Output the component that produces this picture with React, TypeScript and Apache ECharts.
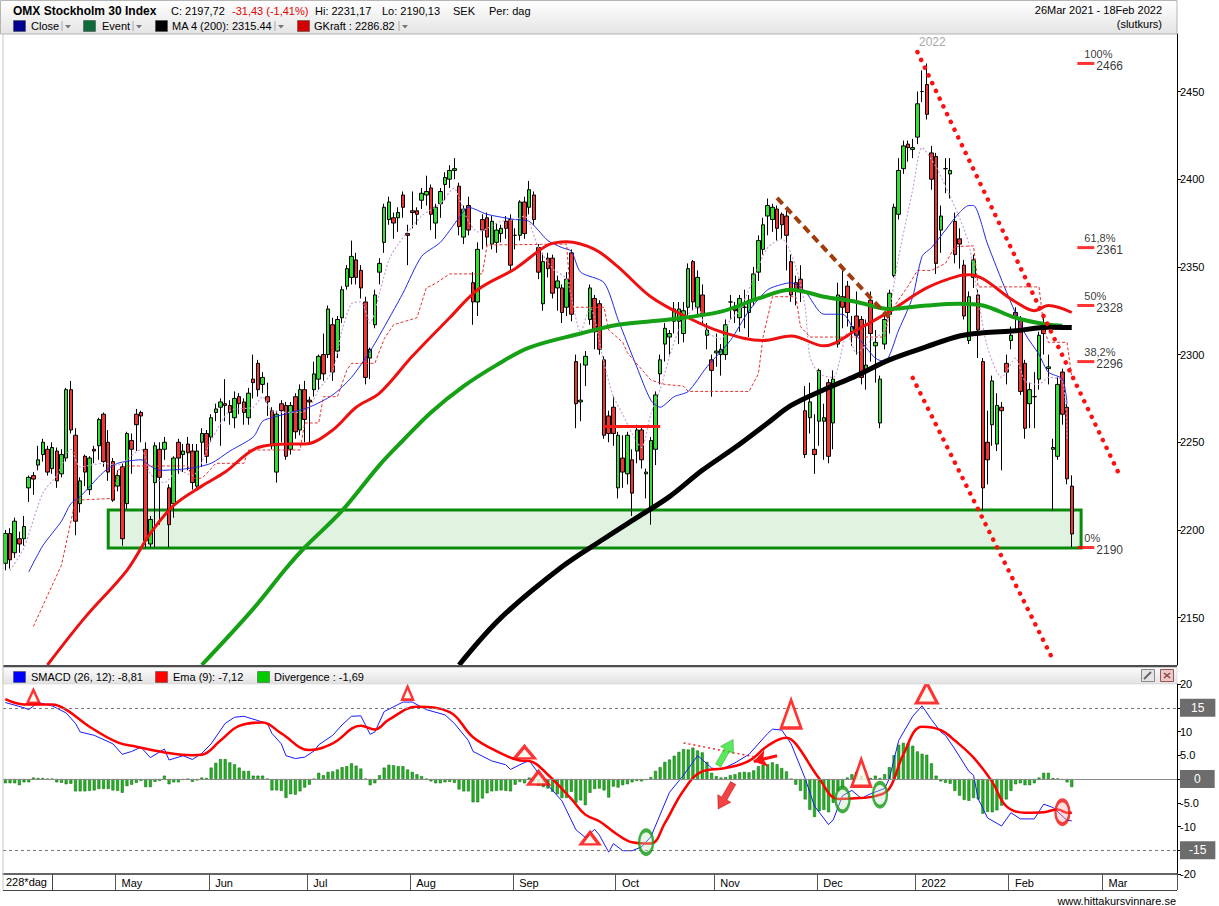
import { useEffect, useRef } from 'react';
import * as echarts from 'echarts';

const FONT = '"Liberation Sans", Arial, Helvetica, sans-serif';

// ---------- calendar ----------
const START_DATE = '2021-03-26';
const SLOT_COUNT = 251;
const HOLIDAYS = ['2021-04-02', '2021-04-05', '2021-05-13', '2021-06-25', '2021-12-24', '2021-12-31', '2022-01-06'];
const MONTH_LABELS: Record<string, string> = {
  '2021-05': 'May', '2021-06': 'Jun', '2021-07': 'Jul', '2021-08': 'Aug', '2021-09': 'Sep',
  '2021-10': 'Oct', '2021-11': 'Nov', '2021-12': 'Dec', '2022-01': '2022', '2022-02': 'Feb', '2022-03': 'Mar',
};

// ---------- price data: [open, close, low, high] ----------
const OHLC: number[][] = [
  [2181,2198,2177,2200],[2198,2183,2178,2201],[2187,2205,2184,2207],[2195,2192,2187,2199],[2195,2202,2191,2208],
  [2224,2230,2216,2231],[2231,2229,2220,2233],[2237,2240,2234,2248],[2243,2250,2239,2252],[2246,2233,2231,2248],
  [2235,2247,2232,2250],[2245,2228,2224,2247],[2232,2243,2230,2246],[2241,2280,2239,2281],[2280,2257,2255,2285],
  [2254,2205,2197,2258],[2215,2228,2210,2230],[2242,2233,2225,2243],[2223,2241,2220,2242],[2246,2245,2238,2248],
  [2248,2263,2240,2264],[2266,2239,2236,2267],[2250,2233,2228,2257],[2239,2217,2216,2241],[2225,2231,2222,2234],
  [2236,2195,2191,2238],[2215,2255,2212,2256],[2251,2246,2232,2255],[2266,2260,2245,2269],[2267,2265,2250,2268],
  [2246,2194,2190,2250],[2192,2206,2190,2208],[2227,2248,2190,2250],[2246,2230,2203,2250],[2246,2250,2240,2253],
  [2224,2203,2190,2226],[2215,2241,2207,2242],[2250,2241,2232,2252],[2243,2245,2233,2249],[2249,2244,2234,2253],
  [2245,2227,2223,2249],[2225,2245,2224,2249],[2250,2255,2236,2258],
  [2255,2242,2238,2257],[2253,2264,2250,2266],[2267,2269,2262,2272],[2270,2273,2248,2275],[2272,2271,2262,2286],
  [2271,2267,2260,2274],[2264,2275,2258,2279],[2276,2272,2266,2278],[2273,2267,2260,2275],[2264,2278,2260,2281],
  [2286,2284,2275,2300],[2295,2280,2276,2297],[2283,2287,2278,2290],[2276,2273,2265,2284],[2268,2248,2246,2270],
  [2233,2266,2227,2268],[2272,2268,2250,2274],[2271,2242,2240,2273],[2246,2271,2243,2273],[2276,2256,2252,2278],
  [2257,2280,2254,2283],[2280,2263,2250,2285],[2274,2273,2250,2276],[2280,2289,2276,2296],[2286,2299,2280,2300],
  [2300,2289,2285,2312],[2300,2326,2298,2328],[2317,2290,2285,2321],[2302,2320,2298,2322],[2321,2337,2318,2339],
  [2339,2349,2337,2351],[2344,2356,2340,2365],[2354,2344,2340,2358],[2348,2338,2332,2351],[2330,2287,2283,2333],
  [2298,2303,2286,2304],[2317,2334,2315,2337],[2347,2352,2340,2355],[2364,2384,2358,2386],[2377,2387,2374,2390],
  [2378,2375,2366,2381],[2378,2381,2370,2384],[2391,2384,2378,2393],[2369,2368,2351,2374],[2382,2381,2372,2393],
  [2382,2380,2374,2384],[2388,2392,2383,2395],[2391,2393,2385,2402],[2395,2380,2371,2397],[2375,2384,2366,2386],
  [2386,2393,2378,2395],[2397,2401,2388,2404],[2400,2405,2395,2408],[2405,2406,2400,2412],[2396,2373,2368,2398],
  [2367,2383,2363,2385],[2385,2371,2368,2390],[2341,2330,2317,2347],[2330,2360,2322,2364],[2377,2371,2360,2380],
  [2378,2367,2362,2381],[2363,2376,2360,2379],[2364,2371,2358,2375],[2369,2372,2364,2374],[2376,2372,2366,2379],
  [2377,2351,2348,2380],[2368,2368,2360,2372],[2368,2387,2365,2388],[2387,2369,2366,2390],[2384,2394,2380,2399],
  [2391,2377,2374,2393],[2361,2347,2343,2363],[2329,2353,2325,2358],[2355,2349,2344,2358],[2355,2335,2332,2357],
  [2338,2342,2325,2345],[2338,2324,2318,2340],[2327,2343,2322,2347],[2358,2323,2319,2360],[2296,2272,2258,2300],
  [2273,2274,2262,2295],
  [2294,2299,2282,2302],[2320,2338,2317,2340],[2332,2313,2303,2334],[2329,2303,2300,2331],[2297,2254,2252,2299],
  [2265,2255,2250,2268],[2270,2255,2248,2276],[2224,2254,2218,2256],[2241,2233,2224,2254],[2232,2254,2226,2256],
  [2240,2221,2208,2246],[2245,2257,2238,2260],[2257,2240,2235,2259],[2232,2233,2218,2235],[2211,2251,2203,2253],
  [2246,2277,2237,2279],[2289,2297,2283,2300],[2306,2315,2296,2318],[2310,2312,2300,2314],[2319,2326,2312,2330],
  [2319,2326,2306,2330],[2312,2325,2307,2330],[2327,2349,2322,2352],[2353,2330,2325,2354],[2327,2344,2322,2348],
  [2334,2323,2318,2340],[2311,2314,2303,2318],[2297,2291,2276,2300],[2301,2302,2293,2312],[2300,2303,2288,2306],
  [2300,2317,2297,2320],[2330,2330,2320,2334],[2326,2325,2318,2330],[2321,2332,2313,2334],[2327,2327,2315,2337],
  [2324,2331,2310,2334],[2331,2346,2328,2350],[2347,2365,2342,2368],[2360,2374,2357,2378],[2379,2385,2368,2389],
  [2377,2384,2370,2386],
  [2383,2372,2365,2385],[2380,2374,2366,2381],[2379,2368,2348,2382],[2353,2334,2330,2357],[2341,2337,2328,2345],
  [2343,2336,2330,2351],[2268,2243,2241,2282],[2264,2273,2255,2284],[2246,2243,2232,2266],[2262,2291,2248,2292],
  [2262,2264,2240,2272],[2284,2242,2238,2286],[2261,2286,2246,2291],[2306,2334,2304,2341],[2333,2327,2315,2351],
  [2339,2324,2316,2342],[2313,2316,2305,2322],[2322,2311,2300,2336],[2320,2287,2283,2322],[2290,2294,2280,2320],
  [2331,2312,2296,2336],[2305,2307,2284,2314],[2261,2286,2258,2288],[2306,2320,2303,2322],[2323,2335,2312,2337],
  [2345,2384,2344,2386],[2380,2405,2377,2412],[2406,2419,2403,2422],[2420,2418,2410,2422],[2417,2418,2412,2423],
  [2424,2443,2420,2450],[2450,2450,2444,2462],[2454,2437,2434,2466],[2415,2400,2394,2419],[2413,2352,2346,2415],
  [2371,2379,2358,2385],[2406,2406,2392,2412],[2403,2405,2389,2412],[2376,2357,2352,2381],[2366,2363,2349,2372],
  [2351,2322,2320,2354],[2308,2333,2306,2336],[2344,2354,2338,2357],[2334,2314,2298,2337],[2296,2224,2211,2298],
  [2250,2240,2226,2268],[2260,2285,2248,2288],[2249,2271,2245,2278],[2270,2268,2234,2273],[2295,2290,2283,2300],
  [2308,2311,2303,2316],[2324,2321,2313,2327],[2320,2279,2277,2322],[2295,2258,2252,2297],[2272,2280,2258,2284],
  [2276,2276,2258,2290],[2286,2311,2280,2313],[2318,2312,2300,2321],[2292,2293,2283,2300],[2246,2247,2211,2252],
  [2242,2283,2240,2287],[2290,2266,2260,2292],[2270,2229.15,2226,2272],[2225,2197.72,2190.13,2231.17],
];

// ---------- indicator lines, [dayIndex, value] ----------
const CLOSE_AVG = [[5,2176],[8,2191],[12,2205],[14,2215],[16,2219],[21,2233],[24,2238],[29,2240],[31,2236.5],[33,2234],[39,2235],[44,2238],[48,2245],[53,2253],[55,2262],[57,2264],[61,2267],[65,2270],[70,2277],[74,2287],[78,2302],[80,2311],[85,2335],[89,2356],[93,2364],[97,2378],[99,2384],[103,2380],[109,2377],[112,2376],[116,2365],[119,2361],[121,2359],[123,2347],[128,2341],[131,2320],[135,2293],[138,2274],[140,2270],[143,2276],[146,2279],[150,2293],[155,2308],[159,2325],[163,2337],[166,2340],[168,2341],[171,2336],[175,2323],[179,2323],[182,2311],[186,2298],[188,2296],[191,2314],[194,2333],[196,2356],[198,2361],[201,2371],[204,2381],[206,2385],[207,2385],[210,2363],[214,2336],[218,2312],[221,2300],[223,2290],[226,2286],[227,2272]];
const FAST_AVG = [[1,2177],[4,2190],[8,2221],[11,2231],[14,2246],[16,2236],[21,2238],[24,2237],[29,2246],[31,2232],[34,2227],[37,2234],[40,2231],[44,2251],[48,2268],[53,2270],[55,2276],[57,2268],[61,2267],[63,2267],[65,2270],[67,2280],[70,2291],[72,2314],[74,2329],[76,2330],[78,2318],[80,2335],[82,2354],[84,2363],[89,2379],[93,2386],[96,2395],[97,2389],[99,2376],[101,2370],[106,2376],[109,2377],[111,2379],[114,2361],[117,2349],[120,2343],[123,2313],[125,2327],[128,2295],[130,2276],[132,2266],[134,2255],[136,2247],[138,2266],[140,2280],[142,2299],[144,2314],[146,2323],[148,2327],[150,2313],[153,2309],[155,2320],[157,2325],[160,2344],[163,2361],[166,2366],[169,2350],[171,2327],[172,2299],[174,2289],[177,2287],[180,2312],[182,2301],[185,2308],[188,2314],[191,2356],[194,2394],[196,2418],[199,2407],[201,2396],[204,2378],[206,2363],[208,2332],[210,2304],[213,2287],[216,2298],[218,2285],[221,2283],[223,2287],[226,2285],[227,2252]];
const GKRAFT = [[6,2145],[12,2180],[15,2217],[23,2218],[24,2234],[26,2236.5],[39,2236.5],[40,2229.5],[42,2229.5],[43,2232],[45,2238],[51,2238],[52,2245.6],[63,2245.6],[64,2261],[67,2261],[68,2276],[71,2276],[73,2291],[74,2295],[79,2295],[81,2309],[83,2317],[88,2321],[90,2338],[92,2340.6],[95,2346],[102,2346],[103,2362.5],[120,2363],[121,2327],[128,2327],[129,2314],[132,2307],[133,2301],[138,2285.5],[141,2283],[145,2282],[146,2279],[159,2279],[161,2289],[162,2310],[164,2333],[169,2333],[170,2316],[172,2310],[188,2310],[189,2323.5],[193,2339],[195,2348],[198,2348],[201,2352],[203,2361.5],[207,2362],[208,2338.6],[221,2338.6],[222,2316],[223,2307],[227,2307],[228,2286.82]];
const MA50 = [[9,2123],[17,2150],[26,2177],[31,2198],[36,2214],[42,2225],[47,2233],[54,2247],[61,2249],[64,2249],[70,2257],[75,2270],[80,2278],[87,2299],[95,2321],[101,2337],[109,2349],[116,2362.5],[120,2364.4],[126,2360],[131,2350],[138,2333],[146,2321],[153,2313],[162,2308],[168,2310.6],[175,2305],[182,2314],[189,2324.5],[197,2338],[204,2345],[206,2345.5],[216,2330],[220,2325],[223,2328],[228,2324]];
const MA100 = [[42,2123],[53,2155],[60,2178],[64,2190],[72,2211],[80,2237],[85,2251],[91,2267],[98,2282],[105,2294],[112,2304],[123,2312],[131,2317],[142,2320],[153,2324.5],[161,2332],[168,2337],[175,2333],[182,2330],[189,2326],[197,2328],[204,2329],[209,2328],[216,2321],[223,2317],[226,2316.5]];
const MA200 = [[97,2123],[106,2150],[119,2179],[128,2195],[135,2207],[142,2219],[149,2234],[156,2247],[163,2261],[168,2271],[175,2280],[182,2288],[189,2297],[197,2304.5],[204,2310.6],[209,2312.4],[216,2313.6],[223,2315.6],[228,2315.44]];

// ---------- MACD panel ----------
const SMACD = [[0,16.1],[4,15],[5,14.6],[7,16.1],[10,15.4],[13,13.9],[15,11.7],[16,9.9],[19,9.2],[23,7.4],[25,5.2],[27,5.8],[29,6.7],[31,4.5],[34,6.3],[35,4.0],[38,4.9],[40,4.1],[42,5.4],[44,7.4],[47,11.7],[49,13.0],[51,13.2],[54,12.3],[56,11.7],[57,9.6],[59,7.4],[60,4.9],[62,4.3],[64,4.6],[66,5.9],[67,7.2],[70,9.2],[72,11.4],[74,13.2],[76,13.3],[78,9.4],[79,9.9],[81,14.2],[85,16.2],[87,16.2],[90,14.6],[94,13.5],[96,11.7],[99,8.1],[100,5.8],[104,3.8],[107,3.0],[108,2.0],[110,3.0],[112,3.9],[115,-0.2],[119,-4.6],[122,-10.7],[124,-12.3],[126,-10.6],[127,-11.8],[129,-15.4],[130,-13.6],[132,-15.1],[134,-15.1],[136,-14.3],[138,-12.2],[142,-2.8],[145,0.8],[148,4.9],[149,4.1],[151,2.3],[153,2.0],[156,3.4],[159,5.2],[163,9.6],[164,10.5],[166,10.3],[168,7.4],[171,0.1],[173,-5.7],[176,-9.6],[177,-8.6],[179,-3.5],[181,-2.4],[183,-4.1],[185,-3.1],[188,-2.0],[189,0.1],[191,8.1],[194,13.2],[196,15.4],[198,12.5],[200,9.9],[201,9.2],[203,6.3],[206,1.6],[207,0.8],[208,-4.2],[210,-8.2],[213,-9.9],[215,-7.1],[217,-8.4],[220,-8.4],[222,-5.3],[224,-6.0],[227,-8.7],[228,-8.81]];
const EMA9 = [[0,16.8],[4,15.7],[10,15.7],[13,14.6],[18,11],[24,7.7],[28,6.8],[34,5.6],[40,5.0],[42,5.1],[46,8.1],[50,11.2],[55,11.9],[59,9.6],[65,6.1],[70,7.5],[76,11.2],[79,10.4],[82,12.5],[88,15.2],[95,14.1],[100,8.8],[106,5.4],[110,3.9],[112,3.8],[116,0.9],[121,-4.2],[124,-7.5],[127,-8.9],[131,-11.8],[134,-13.3],[138,-13.6],[141,-9.3],[145,-2.4],[149,1.6],[154,2.3],[159,3.8],[163,7.0],[167,8.7],[169,7.4],[174,0.1],[178,-4.2],[181,-4.1],[186,-3.6],[189,-2.0],[192,5.2],[196,11.0],[200,10.3],[203,8.1],[207,4.5],[211,-0.6],[214,-5.7],[218,-7.1],[222,-7.0],[225,-6.4],[227,-7.1],[228,-7.12]];
const DIVERGENCE = [
  -0.9,-0.9,-0.9,-1.3,-0.7,-0.7,0.3,0.2,0.2,0,0,-0.7,-0.8,-1.1,-1.0,-2.6,-2.6,-2.6,-2.5,-2.4,
  -2.1,-2.1,-2.1,-2.4,-2.5,-2.9,-1.5,-1.2,-0.8,-0.4,-1.7,-1.7,-0.6,-0.4,0.7,-1.1,-0.7,-0.7,-0.2,0,
  -0.6,-0.3,0.3,0.2,2.4,3.4,4.2,4.2,3.5,3.1,2.4,1.7,1.7,0.7,0.7,0.7,0,-2.4,-2.4,-2.5,
  -4.0,-3.2,-3.3,-2.6,-1.8,-1.2,0,1.3,0.8,1.5,1.6,2.0,2.5,2.7,3.3,2.8,2.2,0,-1.3,-0.9,
  0.8,2.4,3.0,2.9,2.7,2.7,2.0,1.5,1.0,0.6,0,-0.5,-0.9,-0.9,-0.7,-0.6,-0.8,-2.2,-2.6,-2.6,
  -4.9,-4.9,-4.1,-3.0,-2.6,-2.5,-2.4,-2.5,-2.6,-1.2,-0.6,-0.9,0.3,-0.7,-1.4,-1.7,-2.0,-2.7,-3.2,-4.0,
  -4.0,-2.7,-5.0,-4.5,-5.5,-2.9,-2.1,-2.0,-2.4,-3.9,-1.6,-1.8,-1.3,-1.1,-0.7,-0.4,-0.5,-0.2,0.4,1.7,
  2.5,3.6,4.1,4.9,5.7,6.3,6.2,6.6,6.0,5.6,3.6,1.3,0.6,0.3,0.4,0.8,1.0,1.4,1.5,1.4,
  1.8,2.7,3.0,3.1,3.5,3.1,2.3,1.6,0,-1.2,-2.5,-4.3,-6.5,-8.0,-6.8,-6.5,-7.0,-5.0,-2.5,-1.8,
  0.3,1.0,1.5,0.7,0,0.2,0.7,0.2,1.0,2.5,5.0,7.2,7.6,7.5,7.0,5.8,5.3,5.1,3.3,0.7,
  -0.5,-0.8,-1.0,-2.5,-3.5,-4.4,-4.6,-4.0,-4.3,-7.3,-6.9,-7.0,-6.6,-5.6,-4.3,-2.5,-1.1,-0.9,-1.3,-1.3,
  -0.9,0.3,1.3,1.3,0.2,0.1,-0.2,-0.7,-1.69,
];

// ---------- annotations ----------
const FIB_LEVELS: [string, number][] = [['100%', 2466], ['61,8%', 2361], ['50%', 2328], ['38,2%', 2296], ['0%', 2190]];
const FIB_AT = 231;
const SUPPORT_ZONE = { from: 22, to: 230, top: 2211.4, bottom: 2189.7 };
const CHANNEL_UPPER = [[195, 2472.5], [238, 2232.5]];
const CHANNEL_LOWER = [[194, 2286.7], [224, 2125.9]];
const BROWN_TREND = [[165, 2389.3], [189, 2320.9]];
const SUPPORT_TICK = [[128, 2259.3], [140, 2259.3]];
const MACD_TRIANGLES = [[6, 17.4], [86, 18.1], [111, 5.6], [114, 0.2], [125, -12.5], [168, 13.7], [183, 1.3], [197, 18.1]];
const TRI_SIZES = [[12, 13], [11, 13], [20, 12], [20, 13], [18, 12], [20, 28], [19, 27], [21, 20]];
const MACD_RINGS_GREEN = [[137, -13.3], [179, -4.3], [187, -3.3]];
const MACD_RING_RED = [226, -7.0];
const ARROW_UP = [154, 5.6];
const ARROW_DOWN = [154, -3.6];
const DOTTED_HINT = [[145, 7.6], [160, 4.7]];
const LEFT_ARROW = [[165, 4.9], [160, 3.7]];

function buildDays(): string[] {
  const out: string[] = [];
  const d = new Date(START_DATE + 'T00:00:00Z');
  while (out.length < SLOT_COUNT) {
    const wd = d.getUTCDay();
    const s = d.toISOString().slice(0, 10);
    if (wd !== 0 && wd !== 6 && !HOLIDAYS.includes(s)) out.push(s);
    d.setUTCDate(d.getUTCDate() + 1);
  }
  return out;
}

const ELLIPSE = 'path://M0,10 A10,10 0 1,1 20,10 A10,10 0 1,1 0,10 Z';
const ARROW = 'path://M5,0 L10,9 L7,9 L7,22 L3,22 L3,9 L0,9 Z';

function txt(x: number, y: number, text: string, o: any = {}) {
  return {
    type: 'text', x, y, silent: true, z: 50,
    style: {
      text, fill: o.fill || '#000',
      font: `${o.bold ? 'bold ' : ''}${o.size || 11}px ${FONT}`,
      align: o.align || 'left', verticalAlign: 'middle',
    },
  };
}
function box(x: number, y: number, w: number, h: number, fill: any, stroke?: string, lw = 1) {
  return { type: 'rect', silent: true, z: 40, shape: { x, y, width: w, height: h }, style: { fill, stroke: stroke || null, lineWidth: lw } };
}
function ln(x1: number, y1: number, x2: number, y2: number, stroke: string, lw = 1) {
  return { type: 'line', silent: true, z: 45, shape: { x1, y1, x2, y2 }, style: { stroke, lineWidth: lw } };
}
function dropdown(x: number, y: number) {
  return [
    ln(x, y - 5, x, y + 5, '#aaa', 1),
    { type: 'polygon', silent: true, z: 45, shape: { points: [[x + 3, y - 1], [x + 9, y - 1], [x + 6, y + 2.5]] }, style: { fill: '#777' } },
  ];
}

function buildOption() {
  const days = buildDays();
  const monthStart = new Set<number>();
  for (let i = 1; i < days.length; i++) {
    const m = days[i].slice(0, 7);
    if (m !== days[i - 1].slice(0, 7) && MONTH_LABELS[m]) monthStart.add(i);
  }
  const grad = (a: string, b: string) => new echarts.graphic.LinearGradient(0, 0, 0, 1, [{ offset: 0, color: a }, { offset: 1, color: b }]);

  const graphic: any[] = [
    // header
    box(0.5, 0.5, 1176.5, 33.5, grad('#ffffff', '#e4e4e4'), '#b5b5b5'),
    txt(13, 11, 'OMX Stockholm 30 Index', { bold: true, size: 12 }),
    txt(171, 11, 'C: 2197,72'),
    txt(232, 11, '-31,43 (-1,41%)', { fill: '#e00000' }),
    txt(315, 11, 'Hi: 2231,17'),
    txt(382, 11, 'Lo: 2190,13'),
    txt(453, 11, 'SEK'),
    txt(489, 11, 'Per: dag'),
    txt(1162, 10, '26Mar 2021 - 18Feb 2022', { align: 'right' }),
    txt(1162, 24, '(slutkurs)', { align: 'right' }),
    box(13.5, 20.5, 12, 11, '#000090', '#444', 0.5), txt(31, 26, 'Close'), ...dropdown(62, 26),
    box(83.5, 20.5, 12, 11, '#0d6b3c', '#444', 0.5), txt(102, 26, 'Event'), ...dropdown(133, 26),
    box(155.5, 20.5, 12, 11, '#000000', '#444', 0.5), txt(172, 26, 'MA 4 (200): 2315.44'), ...dropdown(275, 26),
    box(297.5, 20.5, 12, 11, '#d40000', '#444', 0.5), txt(314, 26, 'GKraft : 2286.82'), ...dropdown(399, 26),
    txt(919, 42, '2022', { fill: '#a8a8a8', size: 12 }),
    // left frame
    ln(3, 34, 3, 890, '#c8c8c8', 1),
    // separator + MACD header
    box(3, 665, 1174, 2.5, '#4d4d4d'),
    box(3, 667.5, 1174, 16.5, grad('#fbfbfb', '#e2e2e2'), '#c9c9c9', 0.5),
    box(13.5, 671.5, 12, 11, '#0000ff', '#444', 0.5), txt(31, 677, 'SMACD (26, 12): -8,81'),
    box(155.5, 671.5, 12, 11, '#ff0000', '#444', 0.5), txt(173, 677, 'Ema (9): -7,12'),
    box(257.5, 671.5, 12, 11, '#00cc00', '#444', 0.5), txt(274, 677, 'Divergence : -1,69'),
    box(1141.5, 669.5, 13, 12, '#e4e4e4', '#8a8a8a', 1),
    ln(1144, 679, 1151, 672, '#666', 2),
    box(1160.5, 669.5, 13, 12, '#e6caca', '#a05050', 1),
    ln(1164, 673, 1170, 678, '#904040', 1.5), ln(1170, 673, 1164, 678, '#904040', 1.5),
    // bottom strip
    ln(3, 890.5, 1177, 890.5, '#444', 1),
    ln(52.5, 874, 52.5, 890, '#444', 1),
    txt(6, 882, '228*dag'),
    txt(1176, 901, 'www.hittakursvinnare.se', { align: 'right' }),
  ];

  const dotted = { color: '#ff1010', width: 4.5, type: [0.1, 8.5], cap: 'round' };
  const boxLabel = (t: string, pad: number[]) => ({
    show: true, position: 'end', distance: 3, formatter: t, color: '#fff', backgroundColor: '#6c6c6c',
    padding: pad, fontSize: 12, fontFamily: FONT,
  });

  const option: any = {
    animation: false,
    backgroundColor: '#ffffff',
    textStyle: { fontFamily: FONT },
    graphic,
    grid: [
      { left: 3, right: 42, top: 34, height: 631 },
      { left: 3, right: 42, top: 684, height: 190 },
    ],
    xAxis: [
      { type: 'category', gridIndex: 0, data: days, boundaryGap: true, show: false },
      {
        type: 'category', gridIndex: 1, data: days, boundaryGap: true, position: 'bottom',
        axisLine: { onZero: false, lineStyle: { color: '#333', width: 1.5 } },
        axisTick: { show: true, interval: (i: number) => monthStart.has(i), length: 16, lineStyle: { color: '#555' } },
        axisLabel: {
          interval: (i: number) => monthStart.has(i),
          formatter: (v: string) => MONTH_LABELS[v.slice(0, 7)] || '',
          align: 'left', padding: [0, 0, 0, 4], margin: 3, color: '#000', fontSize: 11, fontFamily: FONT,
        },
        splitLine: { show: false },
      },
    ],
    yAxis: [
      {
        type: 'value', gridIndex: 0, position: 'right', min: 2123, max: 2482.8, splitNumber: 7,
        axisLine: { show: true, lineStyle: { color: '#000' } },
        axisTick: { show: true, length: 4, lineStyle: { color: '#000' } },
        axisLabel: { margin: 3, color: '#000', fontSize: 11, fontFamily: FONT, showMinLabel: false, showMaxLabel: false,
          formatter: (v: number) => (Math.abs(v % 50) < 1e-6 ? String(v) : '') },
        splitLine: { show: false },
      },
      {
        type: 'value', gridIndex: 1, position: 'right', min: -20, max: 20, interval: 5,
        axisLine: { show: true, lineStyle: { color: '#000' } },
        axisTick: { show: true, length: 4, lineStyle: { color: '#000' } },
        axisLabel: { margin: 3, color: '#000', fontSize: 11, fontFamily: FONT,
          formatter: (v: number) => ([15, 0, -15].includes(v) ? '' : Math.abs(v) === 5 ? v.toFixed(1) : String(v)) },
        splitLine: { show: false },
      },
    ],
    series: [
      {
        name: 'OMX', type: 'candlestick', xAxisIndex: 0, yAxisIndex: 0, data: OHLC, barWidth: 4, z: 2,
        itemStyle: { color: '#2fe02f', color0: '#f03434', borderColor: '#000', borderColor0: '#000', borderWidth: 1 },
        markArea: {
          silent: true,
          itemStyle: { color: 'rgba(214,238,214,0.75)', borderColor: '#0a8a0a', borderWidth: 3 },
          data: [[{ coord: [SUPPORT_ZONE.from, SUPPORT_ZONE.top] }, { coord: [SUPPORT_ZONE.to, SUPPORT_ZONE.bottom] }]],
        },
        markLine: {
          silent: true, symbol: ['none', 'none'], label: { show: false },
          data: [
            [{ coord: CHANNEL_UPPER[0], lineStyle: dotted }, { coord: CHANNEL_UPPER[1] }],
            [{ coord: CHANNEL_LOWER[0], lineStyle: dotted }, { coord: CHANNEL_LOWER[1] }],
            [{ coord: BROWN_TREND[0], lineStyle: { color: '#a13c0c', width: 4, type: [8, 5] } }, { coord: BROWN_TREND[1] }],
            [{ coord: SUPPORT_TICK[0], lineStyle: { color: '#ff1a1a', width: 3, type: 'solid' } }, { coord: SUPPORT_TICK[1] }],
          ],
        },
      },
      { name: 'Close', type: 'line', data: CLOSE_AVG, showSymbol: false, smooth: 0.25, z: 3,
        lineStyle: { color: '#1f2ae6', width: 1 } },
      { name: 'Fast', type: 'line', data: FAST_AVG, showSymbol: false, smooth: 0.25, z: 3,
        lineStyle: { color: '#c7a0d6', width: 1.2, type: [2, 2] } },
      { name: 'GKraft', type: 'line', data: GKRAFT, showSymbol: false, z: 3,
        lineStyle: { color: '#e83030', width: 1, type: [3, 2] } },
      { name: 'MA50', type: 'line', data: MA50, showSymbol: false, smooth: 0.35, z: 4,
        lineStyle: { color: '#ee1111', width: 3 } },
      { name: 'MA100', type: 'line', data: MA100, showSymbol: false, smooth: 0.35, z: 4,
        lineStyle: { color: '#16a016', width: 4 } },
      { name: 'MA200', type: 'line', data: MA200, showSymbol: false, smooth: 0.35, z: 4,
        lineStyle: { color: '#000000', width: 5 } },
      {
        name: 'Fib', type: 'scatter', data: FIB_LEVELS.map(([p, v]) => [FIB_AT, v, p]), z: 10,
        symbol: 'rect', symbolSize: [17, 3], itemStyle: { color: '#ff0000' },
        label: {
          show: true, position: [7, -14], align: 'left', verticalAlign: 'top',
          formatter: (p: any) => `{p|${p.data[2]}}\n{v|${p.data[1]}}`,
          rich: {
            p: { fontSize: 11, lineHeight: 12, color: '#000', fontFamily: FONT },
            v: { fontSize: 12, lineHeight: 12, color: '#000', padding: [0, 0, 0, 12], fontFamily: FONT },
          },
        },
      },
      // ---- MACD ----
      {
        name: 'Divergence', type: 'bar', xAxisIndex: 1, yAxisIndex: 1, data: DIVERGENCE, barWidth: 3, z: 2,
        itemStyle: { color: '#22b422', borderColor: '#0d600d', borderWidth: 0.5 },
        markLine: {
          silent: true, symbol: ['none', 'none'],
          data: [
            { yAxis: 15, lineStyle: { color: '#777', type: [3, 3], width: 1 }, label: boxLabel('15', [3, 11, 3, 11]) },
            { yAxis: 0, lineStyle: { color: '#8a8a8a', type: 'solid', width: 1 }, label: boxLabel('0', [3, 14, 3, 14]) },
            { yAxis: -15, lineStyle: { color: '#777', type: [3, 3], width: 1 }, label: boxLabel('-15', [3, 9, 3, 9]) },
            [{ coord: DOTTED_HINT[0], lineStyle: { color: '#ff2020', type: [2, 3], width: 1.5 }, label: { show: false } }, { coord: DOTTED_HINT[1] }],
            [{ coord: LEFT_ARROW[0], symbol: 'none', lineStyle: { color: '#ff1010', width: 3, type: 'solid' }, label: { show: false } },
              { coord: LEFT_ARROW[1], symbol: 'arrow', symbolSize: 13 }],
          ],
        },
      },
      { name: 'SMACD', type: 'line', xAxisIndex: 1, yAxisIndex: 1, data: SMACD, showSymbol: false, z: 4,
        lineStyle: { color: '#1a1aff', width: 1 } },
      { name: 'Ema', type: 'line', xAxisIndex: 1, yAxisIndex: 1, data: EMA9, showSymbol: false, smooth: 0.4, z: 4,
        lineStyle: { color: '#ff0000', width: 2.5 } },
      {
        name: 'Signals', type: 'scatter', xAxisIndex: 1, yAxisIndex: 1, z: 10, silent: true,
        data: [
          ...MACD_TRIANGLES.map((c, k) => ({
            value: c, symbol: 'triangle', symbolSize: TRI_SIZES[k],
            itemStyle: { color: '#fffdf0', borderColor: '#ff0000', borderWidth: k < 2 ? 2.5 : 3 },
          })),
          ...MACD_RINGS_GREEN.map((c) => ({
            value: c, symbol: ELLIPSE, symbolSize: [14, 24],
            itemStyle: { color: 'rgba(190,225,190,0.45)', borderColor: '#149a14', borderWidth: 3 },
          })),
          { value: MACD_RING_RED, symbol: ELLIPSE, symbolSize: [14, 24],
            itemStyle: { color: 'rgba(255,170,170,0.5)', borderColor: '#ee1111', borderWidth: 3 } },
          { value: ARROW_UP, symbol: ARROW, symbolSize: [15, 30], symbolRotate: -30,
            itemStyle: { color: '#33e233', borderColor: '#22a022', borderWidth: 0.5 } },
          { value: ARROW_DOWN, symbol: ARROW, symbolSize: [15, 30], symbolRotate: 150,
            itemStyle: { color: '#ee1414', borderColor: '#b00000', borderWidth: 0.5 } },
        ],
      },
    ],
  };
  return option;
}

export default function App() {
  const ref = useRef<HTMLDivElement>(null);
  useEffect(() => {
    if (!ref.current) return;
    const chart = echarts.init(ref.current, null, { renderer: 'svg' });
    chart.setOption(buildOption());
    return () => chart.dispose();
  }, []);
  return (
    <div
      ref={ref}
      style={{ position: 'absolute', left: 0, top: 0, width: 1219, height: 906, background: '#ffffff' }}
    />
  );
}
